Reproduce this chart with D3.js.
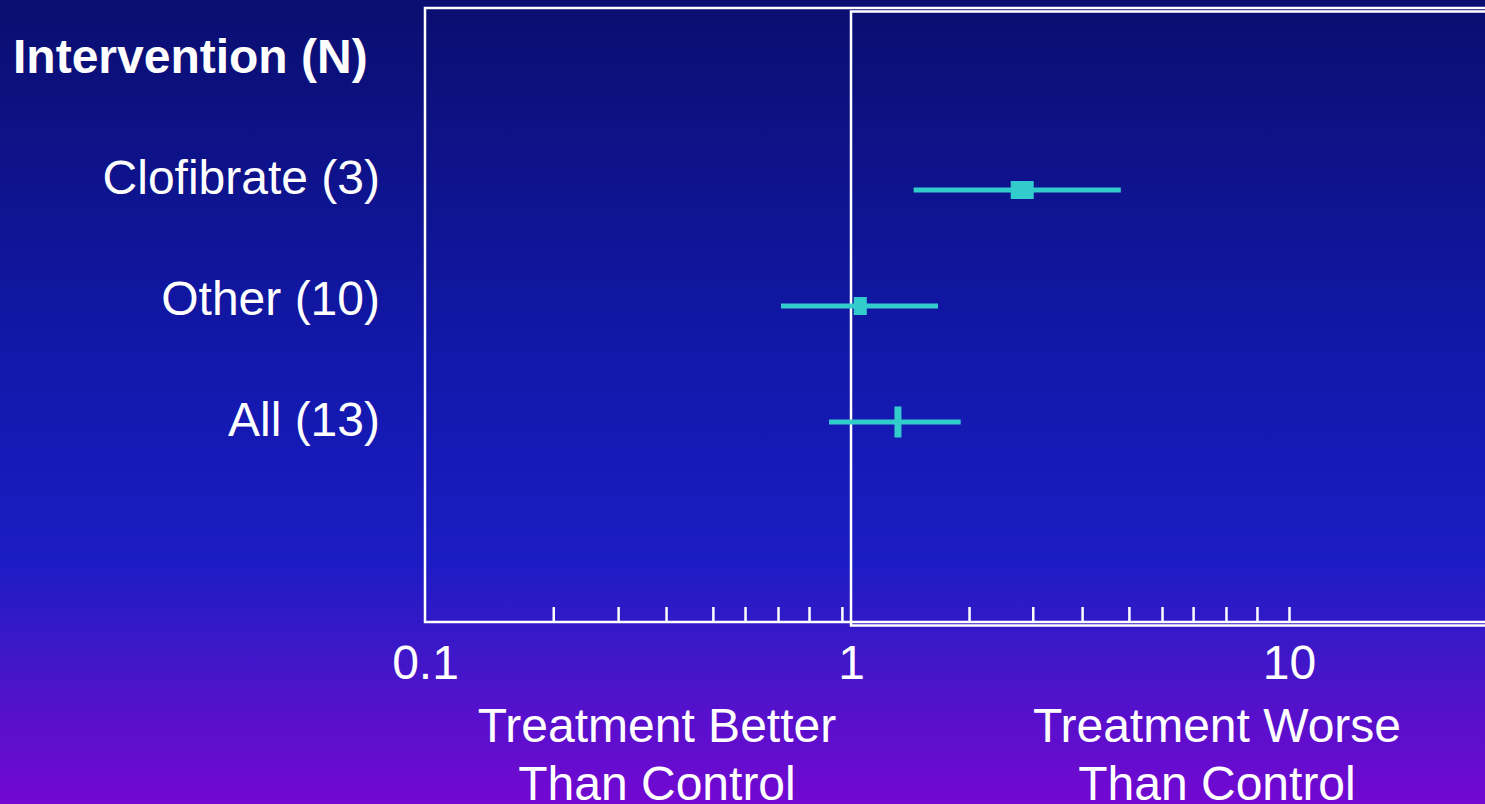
<!DOCTYPE html>
<html>
<head>
<meta charset="utf-8">
<script src="https://cdn.jsdelivr.net/npm/d3@7"></script>
<style>
  html, body { margin: 0; padding: 0; overflow: hidden; }
  svg { display: block; font-family: Arial, "Liberation Sans", sans-serif; }
</style>
</head>
<body>
<svg id="chart" width="1485" height="804"></svg>
<script>
// rows of the forest plot
var header = "Intervention (N)";
var categories = ["Clofibrate (3)", "Other (10)", "All (13)"];
var estimate = [2.46, 1.05, 1.28];
var lower = [1.39, 0.685, 0.888];
var upper = [4.13, 1.58, 1.78];

// axis
var majorTicks = [0.1, 1, 10];
var majorLabels = ["0.1", "1", "10"];
var minorTicks = [0.2, 0.284, 0.368, 0.474, 0.564, 0.674, 0.797, 0.952,
                  1.86, 2.6, 3.37, 4.31, 5.13, 6.04, 7.18, 8.45, 10];

var width = 1485,
    height = 804;

var svg = d3.select("#chart");

// slide background
var defs = svg.append("defs");
var grad = defs.append("linearGradient")
    .attr("id", "bg")
    .attr("x1", 0).attr("y1", 0).attr("x2", 0).attr("y2", 1);
[["0%", "#0a0e70"], ["45%", "#1218aa"], ["70%", "#1c1cc4"], ["80%", "#3a18c8"],
 ["90%", "#5a0fcc"], ["100%", "#7308d2"]].forEach(function(s){
  grad.append("stop").attr("offset", s[0]).attr("stop-color", s[1]);
});
svg.append("rect")
    .attr("width", width)
    .attr("height", height)
    .attr("fill", "url(#bg)");

var x = d3.scaleLog()
    .domain([0.1, 1, 10])
    .range([425, 851, 1289]);

var y = d3.scalePoint()
    .domain(categories)
    .range([190, 422]);

var yLabel = d3.scalePoint()
    .domain([header].concat(categories))
    .range([73, 436]);

var plotTop = 8, plotBottom = 622;

// plot frames
svg.append("rect")
    .attr("x", x(0.1))
    .attr("y", plotTop)
    .attr("width", width + 20 - x(0.1))
    .attr("height", plotBottom - plotTop)
    .attr("fill", "none")
    .attr("stroke", "#fff")
    .attr("stroke-width", 2.5);

svg.append("rect")
    .attr("x", x(1))
    .attr("y", plotTop + 3.5)
    .attr("width", width + 20 - x(1))
    .attr("height", plotBottom - plotTop)
    .attr("fill", "none")
    .attr("stroke", "#fff")
    .attr("stroke-width", 2.5);

// minor ticks pointing up from the bottom edge
var tickAxis = svg.append("g")
    .attr("transform", "translate(0," + plotBottom + ")")
    .call(d3.axisBottom(x).tickValues(minorTicks).tickSize(-15).tickFormat(""));
tickAxis.select(".domain").remove();
tickAxis.selectAll("line").attr("stroke", "#fff").attr("stroke-width", 2.5);

var labelAxis = svg.append("g")
    .attr("transform", "translate(0," + plotBottom + ")")
    .call(d3.axisBottom(x).tickValues(majorTicks).tickSize(0)
      .tickFormat(function(d, i){ return majorLabels[i]; }));
labelAxis.select(".domain").remove();
labelAxis.selectAll("text")
    .attr("y", 57)
    .attr("dy", null)
    .attr("fill", "#fff")
    .style("font-size", "48px")
    .style("font-family", "Arial, 'Liberation Sans', sans-serif");

// row labels
svg.append("text")
    .attr("x", 13)
    .attr("y", yLabel(header))
    .attr("fill", "#fff")
    .style("font-size", "48px")
    .style("font-weight", "bold")
    .text(header);

svg.selectAll(".row-label")
  .data(categories)
  .enter().append("text")
    .attr("class", "row-label")
    .attr("x", 380)
    .attr("y", function(d){ return yLabel(d); })
    .attr("text-anchor", "end")
    .attr("fill", "#fff")
    .style("font-size", "48px")
    .text(function(d){ return d; });

// confidence intervals
var teal = "#33cccc";
var rows = categories.map(function(c, i){
  return { name: c, est: estimate[i], lo: lower[i], hi: upper[i] };
});

svg.selectAll(".ci")
  .data(rows)
  .enter().append("line")
    .attr("class", "ci")
    .attr("x1", function(d){ return x(d.lo); })
    .attr("x2", function(d){ return x(d.hi); })
    .attr("y1", function(d){ return y(d.name); })
    .attr("y2", function(d){ return y(d.name); })
    .attr("stroke", teal)
    .attr("stroke-width", 5);

// point markers: boxes for subgroups, a bar for the pooled estimate
var markerSize = [[23, 18], [13, 18], [7, 31]];
svg.selectAll(".est")
  .data(rows)
  .enter().append("rect")
    .attr("class", "est")
    .attr("x", function(d, i){ return x(d.est) - markerSize[i][0] / 2; })
    .attr("y", function(d, i){ return y(d.name) - markerSize[i][1] / 2; })
    .attr("width", function(d, i){ return markerSize[i][0]; })
    .attr("height", function(d, i){ return markerSize[i][1]; })
    .attr("fill", teal);

// direction notes under the axis
var notes = [
  { x: 657, lines: ["Treatment Better", "Than Control"] },
  { x: 1217, lines: ["Treatment Worse", "Than Control"] }
];
notes.forEach(function(n){
  var t = svg.append("text")
      .attr("text-anchor", "middle")
      .attr("fill", "#fff")
      .style("font-size", "48px");
  n.lines.forEach(function(l, i){
    t.append("tspan")
      .attr("x", n.x)
      .attr("y", 742 + i * 58)
      .text(l);
  });
});
</script>
</body>
</html>
